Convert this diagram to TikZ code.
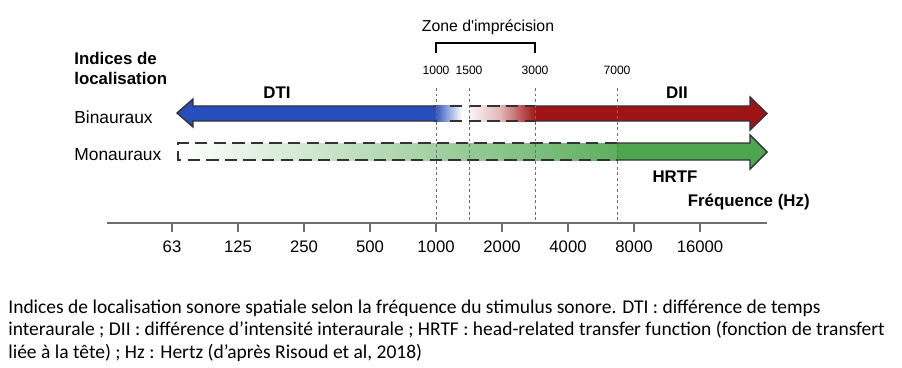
\documentclass[tikz,border=0pt]{standalone}
\usepackage{fontspec}
\setmainfont{Liberation Sans}
\newfontfamily\captionfont{Carlito}
\usetikzlibrary{positioning,calc}

\definecolor{dtiblue}{RGB}{38,78,188}
\definecolor{diired}{RGB}{158,20,22}
\definecolor{hrtfgreen}{RGB}{78,166,78}
\definecolor{axisgray}{RGB}{110,110,110}

\begin{document}
\begin{tikzpicture}[x=0.02cm, y=-0.02cm,
  every node/.style={font=\fontsize{9.5}{11}\selectfont, inner sep=0pt},
  row/.style={font=\fontsize{9.9}{11}\selectfont},
  lbl/.style={font=\bfseries\fontsize{9.6}{11.4}\selectfont},
  small/.style={font=\fontsize{6.9}{8}\selectfont},
  guide/.style={axisgray, dash pattern=on 1.6pt off 1.6pt, line width=0.45pt},
  outline/.style={draw=black!80, line width=0.8pt},
  dashrule/.style={black!80, line width=0.9pt, dash pattern=on 7pt off 3.6pt}]
  \useasboundingbox (0,0) rectangle (902,368);

  % binauraux : DTI (bleu) et DII (rouge)
  \fill[dtiblue] (177,113) -- (193,99) -- (193,106) -- (435,106) -- (435,121) -- (193,121) -- (193,127) -- cycle;
  \shade[left color=dtiblue, right color=white] (434,106) rectangle (462,121);
  \draw[outline] (437,106) -- (193,106) -- (193,99) -- (177,113) -- (193,127) -- (193,121) -- (437,121);
  \shade[left color=white, right color=diired, middle color=diired!30] (464,106) rectangle (536,121);
  \fill[diired] (535,106) -- (750,106) -- (750,97) -- (767,113.5) -- (750,130) -- (750,121) -- (535,121) -- cycle;
  \draw[outline] (535,106) -- (750,106) -- (750,97) -- (767,113.5) -- (750,130) -- (750,121) -- (535,121);
  \draw[dashrule] (450,106) -- (535,106);
  \draw[dashrule] (450,121) -- (535,121);

  % monauraux : HRTF (vert)
  \shade[left color=white, right color=hrtfgreen!90] (178,143) rectangle (618,160);
  \draw[dashrule] (617,143) -- (178,143) -- (178,160) -- (617,160);
  \fill[hrtfgreen] (617,143) -- (750,143) -- (750,135) -- (767,152) -- (750,169) -- (750,160) -- (617,160) -- cycle;
  \draw[outline] (617,143) -- (750,143) -- (750,135) -- (767,152) -- (750,169) -- (750,160) -- (617,160);

  % axe des frequences
  \draw[axisgray, line width=1pt] (107,223) -- (767,223);
  \foreach \f [count=\i from 0] in {63,125,250,500,1000,2000,4000,8000,16000} {
    \draw[axisgray, line width=1pt] (172+66*\i,223) -- ++(0,9);
    \node (t\f) at (172+66*\i,247) {\f};
  }

  \foreach \f/\x in {1000/436,1500/469,3000/535,7000/617} {
    \node[small] (g\f) at (\x,70) {\f};
    \draw[guide] (\x,88) -- (\x,223);
  }
  \node[font=\fontsize{9}{11}\selectfont] (zone) at (488,27) {Zone d\textquotesingle imprécision};
  \draw[line width=0.8pt] ($(g1000)+(0,-17)$) -- ++(0,-10) -- ($(g3000)+(0,-27)$) -- ++(0,10);

  \node[lbl, anchor=west, align=left] (indices) at (74,68) {Indices de\\localisation};
  \node[row, anchor=west] (bin) at (74,117) {Binauraux};
  \node[row, anchor=west] (mon) at (74,155) {Monauraux};
  \node[lbl] (dti) at (277,93) {DTI};
  \node[lbl] (dii) at (677,93) {DII};
  \node[lbl] (hrtf) at (675,177) {HRTF};
  \node[lbl, anchor=east] (freq) at (810,202) {Fréquence (Hz)};

  \node[anchor=base west, align=left, font=\captionfont\fontsize{11.1}{12.75}\selectfont] (legende) at (8,358)
    {Indices de localisation sonore spatiale selon la fréquence du stimulus sonore. DTI : différence de temps\\
     interaurale ; DII : différence d’intensité interaurale ; HRTF : head-related transfer function (fonction de transfert\\
     liée à la tête) ; Hz : Hertz (d’après Risoud et al, 2018)};
\end{tikzpicture}
\end{document}
